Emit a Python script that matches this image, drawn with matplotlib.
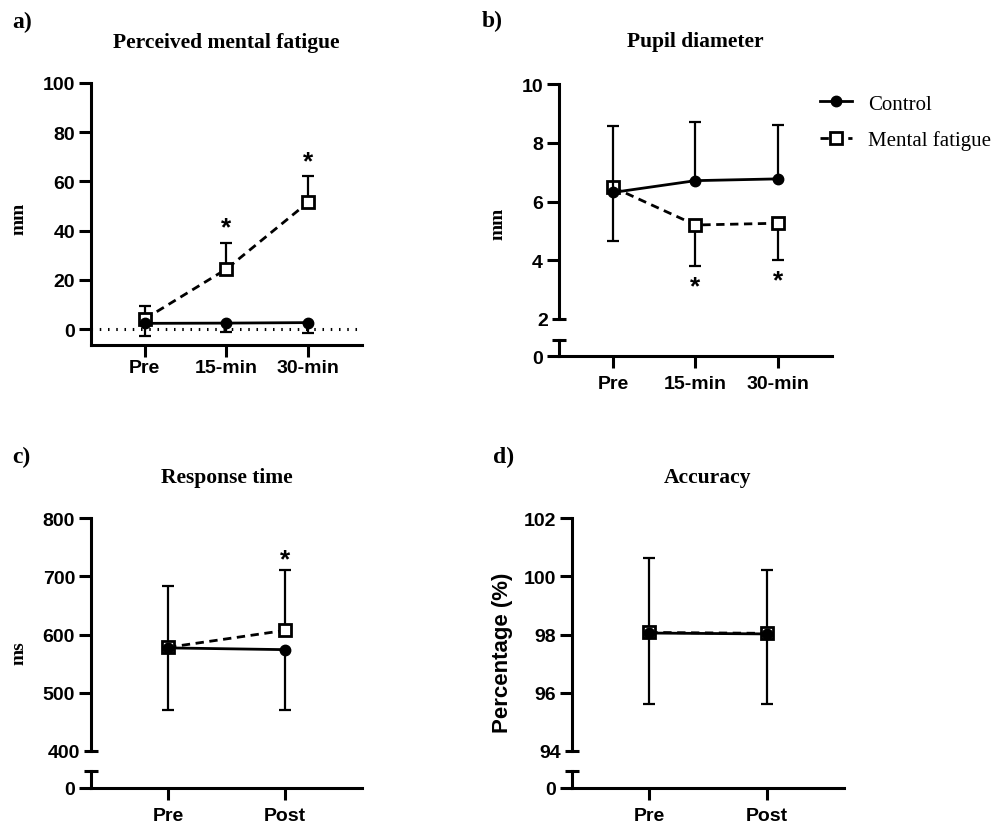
import numpy as np
import matplotlib.pyplot as plt

# ---------------- data ----------------
cats3 = ['Pre', '15-min', '30-min']
cats2 = ['Pre', 'Post']

pmf_control = [2.3, 2.4, 2.6]
pmf_control_sd = [5.0, 3.8, 4.4]
pmf_fatigue = [4.1, 24.4, 51.5]
pmf_fatigue_sd = [5.2, 10.6, 10.8]
pmf_sig = [(1, 41.5), (2, 68.0)]

pupil_control = [6.31, 6.71, 6.77]
pupil_control_sd = [2.25, 2.00, 1.85]
pupil_fatigue = [6.48, 5.20, 5.26]
pupil_fatigue_sd = [1.81, 1.41, 1.24]
pupil_sig = [(1, 3.12), (2, 3.30)]

rt_control = [577, 574]
rt_control_sd = [107, 103]
rt_fatigue = [578, 607]
rt_fatigue_sd = [106, 104]
rt_sig = [(1, 729)]

acc_control = [98.05, 98.02]
acc_control_sd = [2.43, 2.42]
acc_fatigue = [98.07, 98.04]
acc_fatigue_sd = [2.55, 2.18]

# ---------------- style ----------------
SANS = 'Liberation Sans'
SERIF = 'Liberation Serif'
TICK_FS = 14
LW_AX = 2.2
W, H = 995, 828

fig = plt.figure(figsize=(W / 100, H / 100), dpi=100)


def rect(l, r, t, b):
    return [l / W, 1 - b / H, (r - l) / W, (b - t) / H]


def style_ticks(ax):
    for lab in ax.get_xticklabels(minor=False) + ax.get_yticklabels(minor=False) + \
            ax.get_yticklabels(minor=True):
        lab.set_fontfamily(SANS)
        lab.set_fontweight('bold')
        lab.set_fontsize(TICK_FS)


def base_axes(r):
    ax = fig.add_axes(r)
    ax.set_facecolor('none')
    for s in ['top', 'right']:
        ax.spines[s].set_visible(False)
    for s in ['left', 'bottom']:
        ax.spines[s].set_linewidth(LW_AX)
    ax.tick_params(which='major', direction='out', length=8.5, width=LW_AX, pad=3)
    return ax


def draw_series(ax, x, ctrl, ctrl_sd, fat, fat_sd, fatigue_up=True):
    z = np.zeros(len(x))
    fsd = np.array(fat_sd)
    csd = np.array(ctrl_sd)
    ferr = [z, fsd] if fatigue_up else [fsd, z]
    cerr = [csd, z] if fatigue_up else [z, csd]
    ax.errorbar(x, fat, yerr=ferr, fmt='none', ecolor='black', elinewidth=1.6,
                capsize=4, capthick=1.6, zorder=2)
    lf, = ax.plot(x, fat, ls=(0, (3, 2)), lw=2, color='black', marker='s', ms=8,
                  mfc='white', mec='black', mew=2, zorder=3)
    ax.errorbar(x, ctrl, yerr=cerr, fmt='none', ecolor='black', elinewidth=1.6,
                capsize=4, capthick=1.6, zorder=4)
    lc, = ax.plot(x, ctrl, ls='-', lw=2, color='black', marker='o', ms=7.5,
                  mfc='black', mec='black', zorder=5)
    return lc, lf


def add_sig(ax, sig):
    for xi, yv in sig:
        ax.text(xi, yv, '*', ha='center', va='center', fontsize=19,
                fontfamily=SANS, fontweight='bold')


def broken_panel(l, r, t_top, b_top, t_bot, b_bot, ylim, yticks, cats):
    top = base_axes(rect(l, r, t_top, b_top))
    top.spines['bottom'].set_visible(False)
    top.set_ylim(*ylim)
    top.set_yticks(yticks[1:])
    top.set_yticks([yticks[0]], minor=True)
    top.set_yticklabels([str(v) for v in yticks[0:1]], minor=True)
    top.tick_params(which='minor', direction='inout', length=10, width=LW_AX, pad=3)
    top.set_xticks([])
    bot = base_axes(rect(l, r, t_bot, b_bot))
    bot.set_ylim(0, 1)
    bot.set_yticks([0])
    bot.set_yticklabels(['0'])
    bot.set_yticks([1], minor=True)
    bot.tick_params(which='minor', direction='inout', length=10, width=LW_AX)
    bot.set_xticks(np.arange(len(cats)))
    bot.set_xticklabels(cats)
    bot.tick_params(axis='x', pad=5)
    xl = (-0.66, len(cats) - 1 + 0.66)
    top.set_xlim(*xl)
    bot.set_xlim(*xl)
    style_ticks(top)
    style_ticks(bot)
    return top, bot


def title_and_label(ax, title, letter, lx, ly, ty):
    fig.text(lx / W, 1 - ly / H, letter, ha='left', va='center', fontsize=17,
             fontfamily=SERIF, fontweight='bold')
    bb = ax.get_position()
    fig.text(bb.x0 + bb.width / 2, 1 - ty / H, title, ha='center', va='center',
             fontsize=15.5, fontfamily=SERIF, fontweight='bold')


# ---------------- panel a ----------------
x3 = np.arange(len(cats3))
x2 = np.arange(len(cats2))

axa = base_axes(rect(91, 362, 84, 346))
axa.set_xlim(-0.66, 2.66)
axa.set_ylim(-6.5, 100)
axa.set_yticks([0, 20, 40, 60, 80, 100])
axa.set_xticks(x3)
axa.set_xticklabels(cats3)
axa.tick_params(axis='x', pad=1.5)
axa.axhline(0, color='black', lw=2.2, ls=(0, (0.5, 2.2)), zorder=1)
draw_series(axa, x3, pmf_control, pmf_control_sd, pmf_fatigue, pmf_fatigue_sd, fatigue_up=True)
add_sig(axa, pmf_sig)
style_ticks(axa)
axa.set_ylabel('mm', fontsize=14, fontfamily=SERIF, fontweight='bold')
axa.yaxis.set_label_coords((27 - 91) / 271, 0.485)
title_and_label(axa, 'Perceived mental fatigue', 'a)', 12, 22, 43)

# ---------------- panel b ----------------
bt, bb_ = broken_panel(559, 832, 85, 320, 341, 357, (2, 10), [2, 4, 6, 8, 10], cats3)
lc, lf = draw_series(bt, x3, pupil_control, pupil_control_sd, pupil_fatigue,
                     pupil_fatigue_sd, fatigue_up=False)
add_sig(bt, pupil_sig)
bt.set_ylabel('mm', fontsize=14, fontfamily=SERIF, fontweight='bold')
bt.yaxis.set_label_coords((507 - 559) / 273, 0.41)
title_and_label(bt, 'Pupil diameter', 'b)', 482, 21, 42)

fig.legend([lc, lf], ['Control', 'Mental fatigue'], loc='upper left',
           bbox_to_anchor=(820 / W, 1 - 95 / H), frameon=False,
           borderpad=0, borderaxespad=0,
           prop={'family': SERIF, 'size': 15}, handlelength=1.55,
           handletextpad=0.75, labelspacing=0.8)

# ---------------- panel c ----------------
ct, cb = broken_panel(91, 362, 519, 752, 772, 789, (400, 800), [400, 500, 600, 700, 800], cats2)
draw_series(ct, x2, rt_control, rt_control_sd, rt_fatigue, rt_fatigue_sd, fatigue_up=True)
add_sig(ct, rt_sig)
ct.set_ylabel('ms', fontsize=14, fontfamily=SERIF, fontweight='bold')
ct.yaxis.set_label_coords((27 - 91) / 271, 0.425)
title_and_label(ct, 'Response time', 'c)', 12, 457, 478)

# ---------------- panel d ----------------
dt, db = broken_panel(572, 844, 519, 752, 772, 789, (94, 102), [94, 96, 98, 100, 102], cats2)
draw_series(dt, x2, acc_control, acc_control_sd, acc_fatigue, acc_fatigue_sd, fatigue_up=True)
dt.set_ylabel('Percentage (%)', fontsize=16, fontfamily=SANS, fontweight='bold')
dt.yaxis.set_label_coords((513 - 572) / 272, 0.425)
title_and_label(dt, 'Accuracy', 'd)', 493, 457, 478)

fig.savefig('out.png', dpi=100)
